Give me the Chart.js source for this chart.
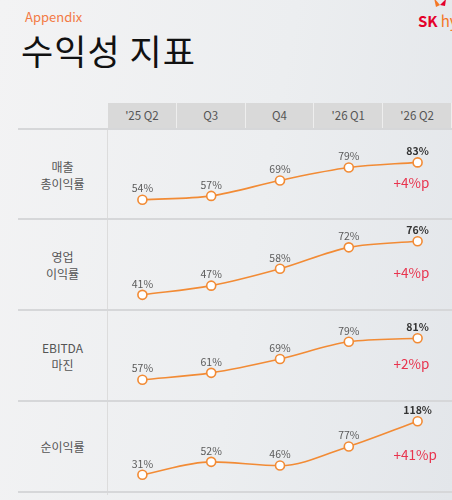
<!DOCTYPE html>
<html>
<head>
<meta charset="utf-8">
<script src="https://cdn.jsdelivr.net/npm/chart.js@4.4.1/dist/chart.umd.min.js"></script>
<style>
  body { margin: 0; }
  #slide {
    position: relative; width: 452px; height: 500px; overflow: hidden;
    background: linear-gradient(100deg, #f3f3f4 0%, #eceef0 55%, #e3e6ea 100%);
    font-family: "Noto Sans CJK KR", "Noto Sans", sans-serif;
  }
  .appendix { position: absolute; left: 25px; top: 7px; font-size: 13px; color: #f37a45; }
  .titulo { position: absolute; left: 21px; top: 24px; font-size: 35px; font-weight: 400; color: #111; letter-spacing: 1px; }
  .logo { position: absolute; left: 418px; top: 10px; font-size: 15px; font-weight: 700; color: #e4002b; }
  .logo span { color: #f47725; font-weight: 400; margin-left: 3px; }
  .borboleta { position: absolute; left: 433px; top: -2px; width: 14px; height: 12px; }
  .cab { position: absolute; top: 103px; height: 25px; line-height: 25px; background: #d9d9d9;
         text-align: center; font-size: 11.5px; color: #555; box-sizing: border-box; border-right: 1px solid #eee; }
  .linha { position: absolute; left: 18px; width: 434px; height: 1.5px; background: #d6d7d9; }
  .vert { position: absolute; left: 107px; top: 129px; width: 1px; height: 366px; background: #dcdcdc; }
  .rotulo { position: absolute; left: 18px; width: 89px; text-align: center; font-size: 12px; line-height: 17px; color: #555; }
  canvas { position: absolute; left: 108px; }
</style>
</head>
<body>
<div id="slide">
  <div class="appendix">Appendix</div>
  <div class="titulo">수익성 지표</div>
  <svg class="borboleta" viewBox="0 0 14 12">
    <path d="M1 0 L7 7 L3 9 Z" fill="#f47725"/>
    <path d="M13 1 L7 7 L12 8 Z" fill="#e4002b"/>
  </svg>
  <div class="logo">SK<span>hynix</span></div>
  <div class="vert"></div>
</div>
<script>
// dados
let trimestres = ["'25 Q2", 'Q3', 'Q4', "'26 Q1", "'26 Q2"];
let metricas = [['매출', '총이익률'], ['영업', '이익률'], ['EBITDA', '마진'], ['순이익률']];
let margemBruta = [54, 57, 69, 79, 83];
let margemOperacional = [41, 47, 58, 72, 76];
let margemEbitda = [57, 61, 69, 79, 81];
let margemLiquida = [31, 52, 46, 77, 118];
let variacoes = ['+4%p', '+4%p', '+2%p', '+41%p'];
let escalasY = [[38.3, 108.9], [31.1, 90.5], [44.7, 97.4], [3.1, 150.8]];

let series = [margemBruta, margemOperacional, margemEbitda, margemLiquida];
let topos = [129, 219, 310, 401];
let alturaLinha = 91;

let slide = document.getElementById('slide');

// cabeçalho
for (let i = 0; i < trimestres.length; i++) {
    let c = document.createElement('div');
    c.className = 'cab';
    c.style.left = (108 + i * 68.8) + 'px';
    c.style.width = '68.8px';
    c.textContent = trimestres[i];
    slide.appendChild(c);
}

// linhas horizontais
let ys = [129, 219, 310, 401, 492];
for (let i = 0; i < ys.length; i++) {
    let l = document.createElement('div');
    l.className = 'linha';
    l.style.top = (ys[i] - 1) + 'px';
    slide.appendChild(l);
}

// rótulos das linhas
for (let i = 0; i < metricas.length; i++) {
    let r = document.createElement('div');
    r.className = 'rotulo';
    r.innerHTML = metricas[i].join('<br>');
    let h = metricas[i].length * 17;
    r.style.top = (topos[i] + alturaLinha / 2 - h / 2) + 'px';
    slide.appendChild(r);
}

let pluginRotulos = {
    id: 'rotulos',
    afterDatasetsDraw(chart, args, opts) {
        let ctx = chart.ctx;
        let meta = chart.getDatasetMeta(0);
        let valores = chart.data.datasets[0].data;
        ctx.save();
        ctx.textAlign = 'center';
        ctx.textBaseline = 'bottom';
        for (let i = 0; i < meta.data.length; i++) {
            let p = meta.data[i];
            let ultimo = i == meta.data.length - 1;
            ctx.font = (ultimo ? 'bold ' : '') + '10.5px "Noto Sans CJK KR"';
            ctx.fillStyle = ultimo ? '#333' : '#5a5a5a';
            ctx.fillText(valores[i] + '%', p.x, p.y - 6);
        }
        let fim = meta.data[meta.data.length - 1];
        ctx.font = '13.5px "Noto Sans CJK KR"';
        ctx.fillStyle = '#e8344e';
        ctx.textAlign = 'left';
        ctx.textBaseline = 'middle';
        ctx.fillText(opts.texto, fim.x - 24, 54);
        ctx.restore();
    }
};

for (let i = 0; i < series.length; i++) {
    let cv = document.createElement('canvas');
    cv.width = 344;
    cv.height = alturaLinha;
    cv.style.top = topos[i] + 'px';
    slide.appendChild(cv);

    new Chart(cv, {
        type: 'line',
        data: {
            labels: trimestres,
            datasets: [{
                data: series[i],
                borderColor: '#f28b35',
                borderWidth: 1.6,
                pointRadius: 4.5,
                pointBackgroundColor: '#ffffff',
                pointBorderColor: '#f28b35',
                pointBorderWidth: 1.6,
                cubicInterpolationMode: 'monotone',
                clip: false
            }]
        },
        options: {
            responsive: false,
            animation: false,
            layout: { padding: 0, autoPadding: false },
            plugins: {
                legend: { display: false },
                tooltip: { enabled: false },
                rotulos: { texto: variacoes[i] }
            },
            scales: {
                x: { type: 'category', offset: true, display: false },
                y: { display: false, min: escalasY[i][0], max: escalasY[i][1] }
            }
        },
        plugins: [pluginRotulos]
    });
}
</script>
</body>
</html>
